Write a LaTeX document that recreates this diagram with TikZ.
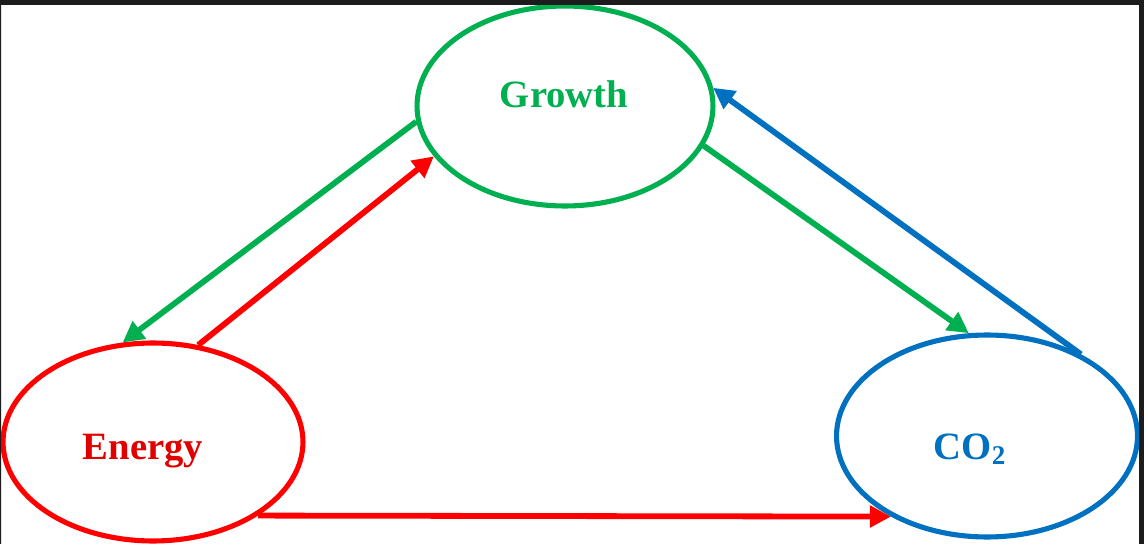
\documentclass[tikz,border=0pt]{standalone}
\usepackage{fontspec}
\setmainfont{Liberation Serif}
\usepackage{xcolor}
\usetikzlibrary{shapes.geometric,arrows.meta}
\definecolor{growthcolor}{RGB}{0,176,80}
\definecolor{energycolor}{RGB}{255,0,0}
\definecolor{co2color}{RGB}{0,112,192}
\definecolor{framecolor}{RGB}{28,28,28}

\begin{document}
\begin{tikzpicture}[x=0.02cm, y=-0.02cm]
    % Define styles
    \tikzstyle{factor} = [ellipse, draw, line width=2.9pt, inner sep=0pt]
    \tikzstyle{factorlabel} = [anchor=base, font=\fontsize{22}{26}\selectfont\bfseries]
    \tikzstyle{arrow} = [line width=3.3pt, -{Triangle[length=12pt, width=12pt]}]

    \useasboundingbox (0,0) rectangle (1144,544);
    \fill[white] (0,0) rectangle (1144,544);

    % Nodes
    \node [factor, draw=growthcolor, minimum width=5.92cm, minimum height=4cm] (growth) at (565,106) {};
    \node [factor, draw=energycolor, minimum width=6cm, minimum height=3.96cm] (energy) at (153,442) {};
    \node [factor, draw=co2color, minimum width=6.02cm, minimum height=4.04cm] (co2) at (987,436) {};
    \node [factorlabel, text=growthcolor] (growthlabel) at (564,108) {Growth};
    \node [factorlabel, text=energycolor!88!black] (energylabel) at (143,459) {Energy};
    \node [factorlabel, text=co2color] (co2label) at (970,459) {CO\textsubscript{2}};

    % Arrows
    \draw [arrow, growthcolor] (growth.186) -- (energy.107);
    \draw [arrow, energycolor] (energy.65) -- (growth.201);
    \draw [arrow, growthcolor] (growth.344) -- (co2.100);
    \draw [arrow, co2color] (co2.41) -- (growth.7);
    \draw [arrow, energycolor] (energy.-35) -- (co2.220);

    % Frame
    \fill [framecolor, even odd rule] (0,0) rectangle (1144,544) (1,5) rectangle (1139,544);
\end{tikzpicture}
\end{document}
